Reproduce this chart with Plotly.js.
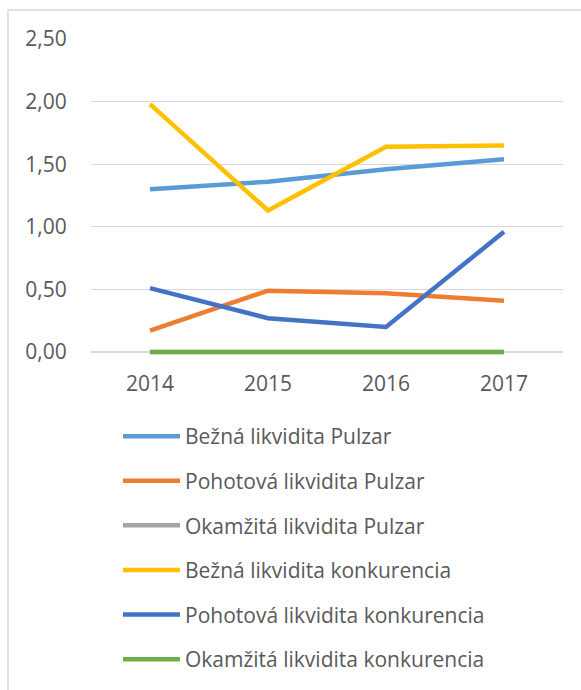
<!DOCTYPE html>
<html>
<head>
<meta charset="utf-8">
<script src="https://cdn.plot.ly/plotly-3.0.1.min.js"></script>
<style>
  html, body { margin: 0; padding: 0; background: #fff; }
  #chart { width: 581px; height: 690px; }
</style>
</head>
<body>
<div id="chart"></div>
<script>
const years = ['2014', '2015', '2016', '2017'];
const seriesNames = [
  'Bežná likvidita Pulzar',
  'Pohotová likvidita Pulzar',
  'Okamžitá likvidita Pulzar',
  'Bežná likvidita konkurencia',
  'Pohotová likvidita konkurencia',
  'Okamžitá likvidita konkurencia'
];
const beznaPulzar = [1.30, 1.36, 1.46, 1.54];
const pohotovaPulzar = [0.17, 0.49, 0.47, 0.41];
const okamzitaPulzar = [0.00, 0.00, 0.00, 0.00];
const beznaKonkurencia = [1.98, 1.13, 1.64, 1.65];
const pohotovaKonkurencia = [0.51, 0.27, 0.20, 0.96];
const okamzitaKonkurencia = [0.00, 0.00, 0.00, 0.00];
const yTicks = [0, 0.5, 1, 1.5, 2, 2.5];

const values = [beznaPulzar, pohotovaPulzar, okamzitaPulzar, beznaKonkurencia, pohotovaKonkurencia, okamzitaKonkurencia];
const colors = ['#5B9BD5', '#ED7D31', '#A5A5A5', '#FFC000', '#4472C4', '#70AD47'];

const traces = values.map((v, i) => ({
  type: 'scatter',
  mode: 'lines',
  x: years,
  y: v,
  name: seriesNames[i],
  legendgroup: 'g' + i,
  line: { color: colors[i], width: 4.5 },
  hoverinfo: 'skip'
}));

const fontFam = '"Open Sans", "Liberation Sans", sans-serif';
const W = 581, H = 690;
const mL = 91, mR = 18, mT = 39, mB = 333;
const pw = W - mL - mR, ph = H - mT - mB;

const layout = {
  width: W,
  height: H,
  margin: { l: mL, r: mR, t: mT, b: mB, pad: 0, autoexpand: false },
  paper_bgcolor: '#ffffff',
  plot_bgcolor: '#ffffff',
  separators: ', ',
  font: { family: fontFam, color: '#595959', size: 21 },
  showlegend: true,
  xaxis: {
    type: 'category',
    range: [-0.5, 3.5],
    showgrid: false,
    zeroline: false,
    showline: false,
    ticks: 'outside',
    ticklen: 8,
    tickcolor: 'rgba(0,0,0,0)',
    tickfont: { family: fontFam, size: 21, color: '#595959' },
    fixedrange: true
  },
  yaxis: {
    range: [-0.04, 2.5],
    tickvals: yTicks,
    tickformat: '.2f',
    showgrid: true,
    gridcolor: '#D9D9D9',
    gridwidth: 1.3,
    zeroline: false,
    showline: false,
    ticks: 'outside',
    ticklen: 19,
    tickcolor: 'rgba(0,0,0,0)',
    tickfont: { family: fontFam, size: 21, color: '#595959' },
    fixedrange: true
  },
  legend: {
    orientation: 'v',
    xref: 'container',
    yref: 'container',
    x: 118 / W,
    xanchor: 'left',
    y: 1 - 416 / H,
    yanchor: 'top',
    traceorder: 'grouped',
    tracegroupgap: 14.3,
    itemwidth: 57,
    font: { family: fontFam, size: 21, color: '#595959' },
    bgcolor: 'rgba(0,0,0,0)'
  },
  shapes: [{
    type: 'rect',
    xref: 'paper', yref: 'paper',
    x0: (8 - mL) / pw, x1: 2,
    y0: -2, y1: (H - mB - 10) / ph,
    line: { color: '#D9D9D9', width: 1.5 },
    fillcolor: 'rgba(0,0,0,0)',
    layer: 'below'
  }]
};

Plotly.newPlot('chart', traces, layout, { displayModeBar: false, staticPlot: true });
</script>
</body>
</html>
